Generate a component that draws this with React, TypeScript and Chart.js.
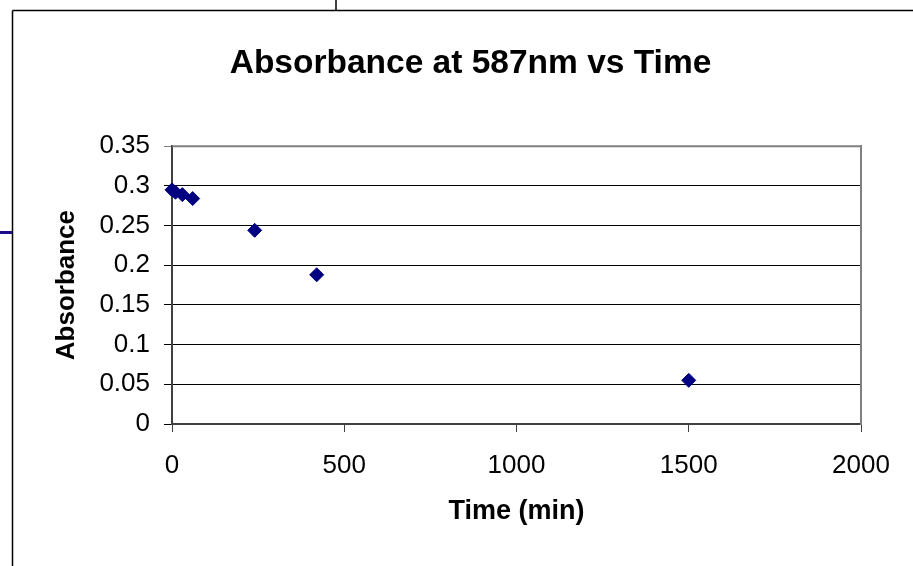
import React, { useEffect, useRef } from 'react';
import { Chart, registerables } from 'chart.js';

Chart.register(...registerables);

const chartTitle = 'Absorbance at 587nm vs Time';
const xAxisTitle = 'Time (min)';
const yAxisTitle = 'Absorbance';

const timeMin = [0, 10, 30, 60, 240, 420, 1500];
const absorbance = [0.295, 0.292, 0.289, 0.284, 0.244, 0.188, 0.055];

const yTickLabels = ['0', '0.05', '0.1', '0.15', '0.2', '0.25', '0.3', '0.35'];
const xTickLabels = ['0', '500', '1000', '1500', '2000'];

const FONT = "'Liberation Sans', Arial, Helvetica, sans-serif";

const framePlugin = {
  id: 'frame',
  beforeDraw(chart: any) {
    const { ctx, width, height } = chart;
    ctx.save();
    ctx.fillStyle = '#ffffff';
    ctx.fillRect(0, 0, width, height);
    ctx.restore();
  },
  afterDraw(chart: any) {
    const { ctx, width, height, chartArea } = chart;
    const { left, top, right } = chartArea;
    ctx.save();
    // plot area top border
    ctx.strokeStyle = '#808080';
    ctx.lineWidth = 2;
    ctx.beginPath();
    ctx.moveTo(left, top);
    ctx.lineTo(right + 1, top);
    ctx.stroke();
    // page frame lines
    ctx.strokeStyle = '#000000';
    ctx.lineWidth = 1.5;
    ctx.beginPath();
    ctx.moveTo(12.5, 10.5);
    ctx.lineTo(width, 10.5);
    ctx.moveTo(12.5, 10.5);
    ctx.lineTo(12.5, height);
    ctx.moveTo(336, 0);
    ctx.lineTo(336, 10.5);
    ctx.stroke();
    ctx.strokeStyle = '#1c0c8c';
    ctx.lineWidth = 3;
    ctx.beginPath();
    ctx.moveTo(0, 232.5);
    ctx.lineTo(12, 232.5);
    ctx.stroke();
    ctx.restore();
  },
};

export default function App() {
  const ref = useRef<HTMLCanvasElement | null>(null);

  useEffect(() => {
    if (!ref.current) return;
    const points = timeMin.map((t, i) => ({ x: t, y: absorbance[i] }));
    const chart = new Chart(ref.current, {
      type: 'scatter',
      data: {
        datasets: [
          {
            label: yAxisTitle,
            data: points,
            pointStyle: 'rectRot',
            pointRadius: 7,
            pointHoverRadius: 7,
            backgroundColor: '#000080',
            borderColor: '#000080',
            borderWidth: 1,
            showLine: false,
            clip: false as any,
          },
        ],
      },
      options: {
        animation: false,
        responsive: false,
        events: [],
        layout: { padding: { left: 28, right: 0, top: 0, bottom: 0 } },
        plugins: {
          legend: { display: false },
          tooltip: { enabled: false },
          title: {
            display: true,
            text: chartTitle,
            color: '#000',
            font: { family: FONT, size: 33.5, weight: 'bold', lineHeight: 1.2 },
            padding: { top: 44, bottom: 62 },
          },
        },
        scales: {
          x: {
            type: 'linear',
            min: 0,
            max: 2000,
            afterFit: (s: any) => {
              s.height = 142;
            },
            ticks: {
              stepSize: 500,
              color: '#000',
              font: { family: FONT, size: 26 },
              padding: 18,
              maxRotation: 0,
              callback: (_v: any, i: number) => xTickLabels[i],
            },
            grid: {
              drawOnChartArea: false,
              drawTicks: true,
              tickLength: 8,
              color: '#404040',
              lineWidth: 1,
            },
            border: { display: true, color: '#404040', width: 2 },
            title: {
              display: true,
              text: xAxisTitle,
              color: '#000',
              font: { family: FONT, size: 27, weight: 'bold' },
              padding: { top: 0, bottom: 38 },
            },
          },
          y: {
            type: 'linear',
            position: 'left',
            min: 0,
            max: 0.35,
            afterFit: (s: any) => {
              s.width = 144;
            },
            ticks: {
              stepSize: 0.05,
              color: '#000',
              font: { family: FONT, size: 26 },
              padding: 14,
              callback: (_v: any, i: number) => yTickLabels[i],
            },
            grid: {
              drawTicks: true,
              tickLength: 8,
              lineWidth: 1,
              color: (c: any) => (c.tick && c.tick.value >= 0.35 - 1e-9 ? '#808080' : '#000000'),
            },
            border: { display: true, color: '#404040', width: 2 },
            title: {
              display: true,
              text: yAxisTitle,
              color: '#000',
              font: { family: FONT, size: 26, weight: 'bold' },
              padding: { top: 23, bottom: 0 },
            },
          },
          yRight: {
            type: 'linear',
            position: 'right',
            min: 0,
            max: 0.35,
            afterFit: (s: any) => {
              s.width = 52;
            },
            ticks: { display: false },
            grid: { drawOnChartArea: false, drawTicks: false },
            border: { display: true, color: '#808080', width: 2 },
          },
        },
      },
      plugins: [framePlugin],
    });
    return () => chart.destroy();
  }, []);

  return (
    <div style={{ position: 'fixed', left: 0, top: 0, width: 913, height: 566, background: '#fff' }}>
      <canvas ref={ref} width={913} height={566} style={{ display: 'block', width: 913, height: 566 }} />
    </div>
  );
}
